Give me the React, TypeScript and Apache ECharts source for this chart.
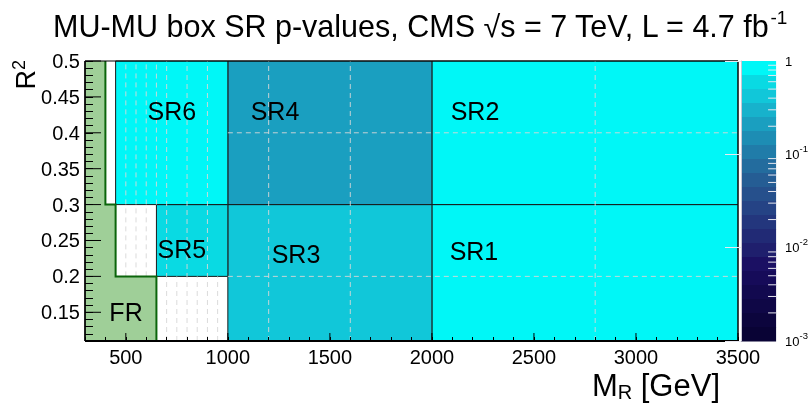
import React, { useEffect, useRef } from "react";
import * as echarts from "echarts";

const FONT = "'Liberation Sans', Arial, Helvetica, sans-serif";

// ---- axes ----
const X_RANGE = [300, 3500];
const Y_RANGE = [0.11, 0.5];
const X_MAJOR = [500, 1000, 1500, 2000, 2500, 3000, 3500];
const Y_MAJOR = [0.15, 0.2, 0.25, 0.3, 0.35, 0.4, 0.45, 0.5];
const Z_DECADES = [-3, -2, -1];
const Z_MINOR_MULT = [2, 3, 4, 5, 6, 7, 8, 9];

// ---- signal regions ----
const SR_NAMES = ["SR1", "SR2", "SR3", "SR4", "SR5", "SR6"];
const SR_X0 = [2000, 2000, 1000, 1000, 650, 450];
const SR_X1 = [3500, 3500, 2000, 2000, 1000, 1000];
const SR_Y0 = [0.11, 0.3, 0.11, 0.3, 0.2, 0.3];
const SR_Y1 = [0.3, 0.5, 0.3, 0.5, 0.3, 0.5];
const SR_PVALUE = [0.92, 0.88, 0.43, 0.21, 0.62, 0.95];
const SR_LABEL_X = [2206, 2211, 1334, 1231, 775, 726];
const SR_LABEL_Y = [0.235, 0.431, 0.231, 0.431, 0.2375, 0.431];

// ---- fit region ----
const FR_X = [300, 300, 400, 400, 450, 450, 650, 650];
const FR_Y = [0.11, 0.5, 0.5, 0.3, 0.3, 0.2, 0.2, 0.11];
const FR_LABEL = [501, 0.151];

// ---- dashed grid segments ----
const VGRID_X = [500, 550, 600, 650, 700, 750, 800, 850, 900, 950, 1200, 1600, 2800];
const VGRID_Y0 = [0.2, 0.2, 0.2, 0.3, 0.11, 0.11, 0.11, 0.11, 0.11, 0.11, 0.11, 0.11, 0.11];
const VGRID_Y1 = [0.5, 0.5, 0.5, 0.5, 0.5, 0.2, 0.5, 0.2, 0.5, 0.2, 0.5, 0.5, 0.5];
const HGRID_Y = [0.4, 0.2];
const HGRID_X0 = [1000, 1000];
const HGRID_X1 = [3500, 3500];

// ---- palette (top = 1, bottom = 1e-3) ----
const PALETTE = [
  "#00f7f7", "#09dae3", "#11c7d9", "#17b2cc", "#1a9fc0",
  "#1d8db4", "#207ca9", "#236c9e", "#255d94", "#26508c",
  "#254385", "#23367d", "#212a75", "#1f1f6d", "#1b1063",
  "#160b59", "#12094f", "#0f0746", "#0c053d", "#090335",
];
const Z_MIN_LOG = -3;
const BAND = -Z_MIN_LOG / PALETTE.length;

function colorFor(p: number) {
  const k = Math.floor(-Math.log10(p) / BAND);
  return PALETTE[Math.min(PALETTE.length - 1, Math.max(0, k))];
}

export default function App() {
  const ref = useRef<HTMLDivElement>(null);
  useEffect(() => {
    const chart = echarts.init(ref.current!, null, { renderer: "svg" });

    const vgrid = VGRID_X.map((x, i) => [x, VGRID_Y0[i], x, VGRID_Y1[i]]);
    const hgrid = HGRID_Y.map((y, i) => [HGRID_X0[i], y, HGRID_X1[i], y]);
    const zMinor: number[] = [];
    Z_DECADES.forEach((d) => Z_MINOR_MULT.forEach((m) => zMinor.push(d + Math.log10(m))));

    const option: any = {
      animation: false,
      title: {
        text: "{n|MU-MU box SR p-values, CMS √s = 7 TeV, L = 4.7 fb}{sup|-1}",
        left: 48,
        top: 3,
        textStyle: {
          fontFamily: FONT,
          fontWeight: "normal",
          rich: {
            n: { fontSize: 30.5, fontFamily: FONT, color: "#000", lineHeight: 36 },
            sup: { fontSize: 19, fontFamily: FONT, color: "#000", verticalAlign: "top" },
          },
        },
      },
      grid: [
        { left: 85, top: 61, width: 653, height: 280 },
        { left: 741, top: 61, width: 37, height: 280 },
      ],
      xAxis: [
        {
          gridIndex: 0,
          type: "value",
          min: X_RANGE[0],
          max: X_RANGE[1],
          interval: 100,
          z: 10,
          axisLine: { show: false },
          axisTick: { show: true, inside: true, length: 4, lineStyle: { color: "#000", width: 1 } },
          axisLabel: {
            margin: 6,
            fontSize: 20,
            fontFamily: FONT,
            color: "#000",
            showMaxLabel: true,
            formatter: (v: number) => (X_MAJOR.includes(v) ? String(v) : ""),
          },
          splitLine: { show: false },
        },
        { gridIndex: 1, type: "value", min: 0, max: 1, show: false },
      ],
      yAxis: [
        {
          gridIndex: 0,
          type: "value",
          min: Y_RANGE[0],
          max: Y_RANGE[1],
          interval: 0.01,
          z: 10,
          axisLine: { show: false },
          axisTick: { show: true, inside: true, length: 8, lineStyle: { color: "#000", width: 1 } },
          axisLabel: {
            margin: 5,
            fontSize: 20,
            fontFamily: FONT,
            color: "#000",
            showMaxLabel: true,
            formatter: (v: number) => {
              const t = Y_MAJOR.find((m) => Math.abs(m - v) < 1e-9);
              return t === undefined ? "" : String(t);
            },
          },
          splitLine: { show: false },
        },
        {
          gridIndex: 1,
          type: "value",
          min: Z_MIN_LOG,
          max: 0,
          interval: 1,
          position: "right",
          z: 10,
          axisLine: { show: true, lineStyle: { color: "#c8c8d4", width: 1 } },
          axisTick: { show: true, inside: true, length: 16, lineStyle: { color: "#e8e8f0", width: 1 } },
          axisLabel: {
            margin: 9,
            showMinLabel: true,
            showMaxLabel: true,
            formatter: (v: number) => (v === 0 ? "{b|1}" : "{b|10}{s|" + v + "}"),
            rich: {
              b: { fontSize: 13, fontFamily: FONT, color: "#000", lineHeight: 22 },
              s: { fontSize: 9.5, fontFamily: FONT, color: "#000", verticalAlign: "top" },
            },
          },
          splitLine: { show: false },
        },
      ],
      graphic: [
        {
          type: "text",
          x: 26,
          y: 60,
          rotation: Math.PI / 2,
          style: {
            text: "{n|R}{sup|2}",
            align: "right",
            verticalAlign: "middle",
            rich: {
              n: { fontSize: 27, fontFamily: FONT, fill: "#000", lineHeight: 32 },
              sup: { fontSize: 18, fontFamily: FONT, fill: "#000", verticalAlign: "top" },
            },
          },
        },
        {
          type: "text",
          x: 720,
          y: 385,
          style: {
            text: "{n|M}{sub|R}{n| [GeV]}",
            align: "right",
            verticalAlign: "middle",
            rich: {
              n: { fontSize: 31, fontFamily: FONT, fill: "#000", lineHeight: 34 },
              sub: { fontSize: 20, fontFamily: FONT, fill: "#000", verticalAlign: "bottom", lineHeight: 20 },
            },
          },
        },
      ],
      series: [
        {
          type: "custom",
          name: "regions",
          xAxisIndex: 0,
          yAxisIndex: 0,
          z: 2,
          silent: true,
          data: SR_NAMES.map((n, i) => [SR_X0[i], SR_Y0[i], SR_X1[i], SR_Y1[i], SR_PVALUE[i]]),
          renderItem: (_p: any, api: any) => {
            const a = api.coord([api.value(0), api.value(3)]);
            const b = api.coord([api.value(2), api.value(1)]);
            return {
              type: "rect",
              shape: { x: a[0], y: a[1], width: b[0] - a[0], height: b[1] - a[1] },
              style: { fill: colorFor(api.value(4)), stroke: "#1a1a1a", lineWidth: 1 },
            };
          },
        },
        {
          type: "custom",
          name: "grid",
          xAxisIndex: 0,
          yAxisIndex: 0,
          z: 3,
          silent: true,
          data: [...vgrid, ...hgrid],
          renderItem: (_p: any, api: any) => {
            const a = api.coord([api.value(0), api.value(1)]);
            const b = api.coord([api.value(2), api.value(3)]);
            return {
              type: "line",
              shape: { x1: a[0], y1: a[1], x2: b[0], y2: b[1] },
              style: { stroke: "rgba(215,215,215,0.9)", lineWidth: 1, lineDash: [5, 4] },
            };
          },
        },
        {
          type: "custom",
          name: "FR",
          xAxisIndex: 0,
          yAxisIndex: 0,
          z: 4,
          silent: true,
          data: [[0]],
          renderItem: (_p: any, api: any) => {
            const pts = FR_X.map((x, i) => api.coord([x, FR_Y[i]]));
            const lab = api.coord(FR_LABEL);
            return {
              type: "group",
              children: [
                { type: "polygon", shape: { points: pts }, style: { fill: "#9fcf98", stroke: null } },
                {
                  type: "polyline",
                  shape: { points: pts.slice(2) },
                  style: { stroke: "#0b650b", lineWidth: 2, fill: null },
                },
                {
                  type: "text",
                  x: lab[0],
                  y: lab[1],
                  style: {
                    text: "FR",
                    fill: "#000",
                    font: `25px ${FONT}`,
                    align: "center",
                    verticalAlign: "middle",
                    textAlign: "center",
                    textVerticalAlign: "middle",
                  },
                },
              ],
            };
          },
        },
        {
          type: "custom",
          name: "labels",
          xAxisIndex: 0,
          yAxisIndex: 0,
          z: 5,
          silent: true,
          data: SR_NAMES.map((n, i) => [SR_LABEL_X[i], SR_LABEL_Y[i], i]),
          renderItem: (_p: any, api: any) => {
            const c = api.coord([api.value(0), api.value(1)]);
            return {
              type: "text",
              x: c[0],
              y: c[1],
              style: {
                text: SR_NAMES[api.value(2)],
                fill: "#000",
                font: `25px ${FONT}`,
                align: "center",
                verticalAlign: "middle",
                textAlign: "center",
                textVerticalAlign: "middle",
              },
            };
          },
        },
        {
          type: "custom",
          name: "majorTicks",
          xAxisIndex: 0,
          yAxisIndex: 0,
          z: 6,
          silent: true,
          data: [...X_MAJOR.map((x) => [x, Y_RANGE[0], 0]), ...Y_MAJOR.map((y) => [X_RANGE[0], y, 1])],
          renderItem: (_p: any, api: any) => {
            const c = api.coord([api.value(0), api.value(1)]);
            const isY = api.value(2) === 1;
            return {
              type: "line",
              shape: isY
                ? { x1: c[0], y1: c[1], x2: c[0] + 16, y2: c[1] }
                : { x1: c[0], y1: c[1], x2: c[0], y2: c[1] - 8 },
              style: { stroke: "#000", lineWidth: 1 },
            };
          },
        },
        {
          type: "custom",
          name: "frame",
          xAxisIndex: 0,
          yAxisIndex: 0,
          z: 7,
          silent: true,
          data: [[0]],
          renderItem: (_p: any, api: any) => {
            const a = api.coord([X_RANGE[0], Y_RANGE[1]]);
            const b = api.coord([X_RANGE[1], Y_RANGE[0]]);
            return {
              type: "group",
              children: [
                {
                  type: "rect",
                  shape: { x: a[0], y: a[1], width: b[0] - a[0], height: b[1] - a[1] },
                  style: { fill: null, stroke: "#000", lineWidth: 1 },
                },
                { type: "line", shape: { x1: a[0], y1: b[1], x2: b[0], y2: b[1] }, style: { stroke: "#000", lineWidth: 2 } },
                { type: "line", shape: { x1: a[0], y1: a[1], x2: a[0], y2: b[1] }, style: { stroke: "#000", lineWidth: 1.5 } },
              ],
            };
          },
        },
        {
          type: "custom",
          name: "palette",
          xAxisIndex: 1,
          yAxisIndex: 1,
          z: 2,
          silent: true,
          data: PALETTE.map((_c, k) => [k]),
          renderItem: (_p: any, api: any) => {
            const k = api.value(0);
            const a = api.coord([0, -k * BAND]);
            const b = api.coord([1, -(k + 1) * BAND]);
            return {
              type: "rect",
              shape: { x: a[0], y: a[1], width: b[0] - a[0], height: b[1] - a[1] + 0.5 },
              style: { fill: PALETTE[k] },
            };
          },
        },
        {
          type: "custom",
          name: "paletteMinor",
          xAxisIndex: 1,
          yAxisIndex: 1,
          z: 6,
          silent: true,
          data: zMinor.map((v) => [v]),
          renderItem: (_p: any, api: any) => {
            const c = api.coord([1, api.value(0)]);
            return {
              type: "line",
              shape: { x1: c[0], y1: c[1], x2: c[0] - 8, y2: c[1] },
              style: { stroke: "#e8e8f0", lineWidth: 1 },
            };
          },
        },
      ],
    };

    chart.setOption(option);
    return () => chart.dispose();
  }, []);

  return <div ref={ref} style={{ position: "fixed", left: 0, top: 0, width: 811, height: 409 }} />;
}
